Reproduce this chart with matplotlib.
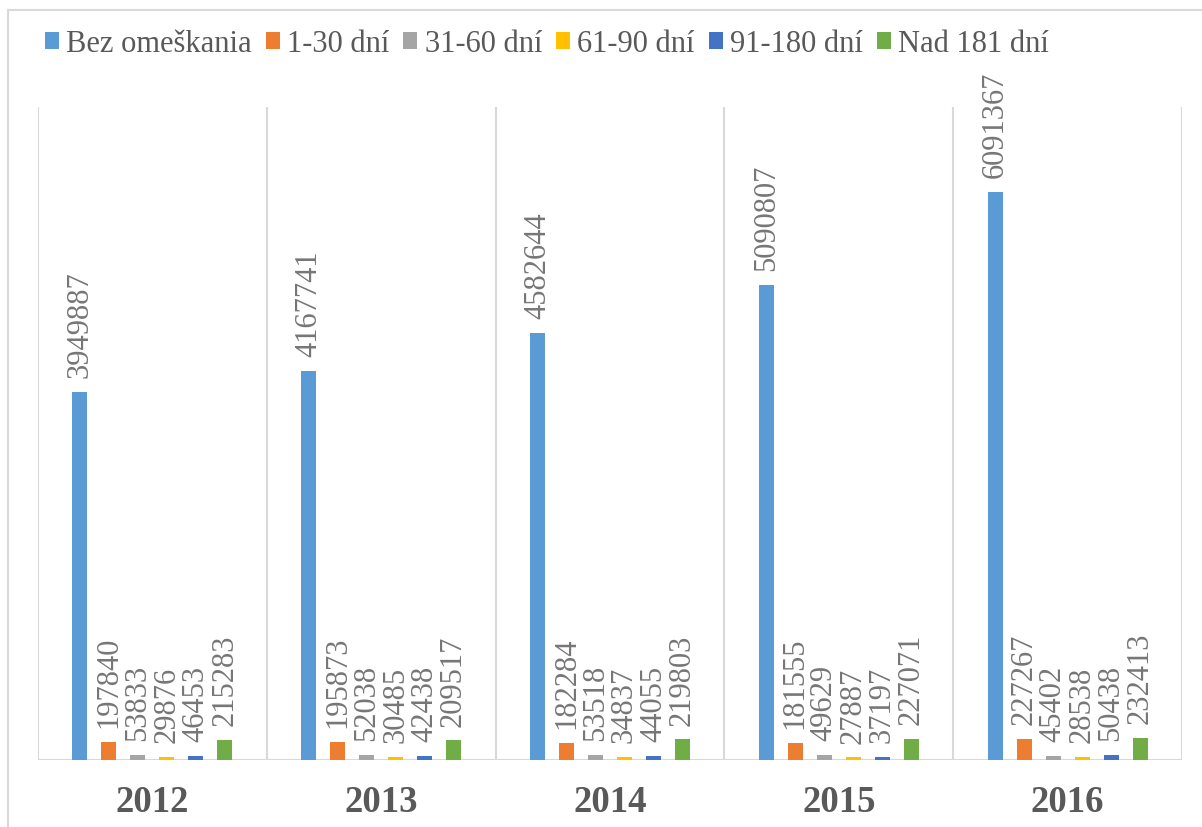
import numpy as np
import matplotlib
matplotlib.use('Agg')
import matplotlib.pyplot as plt
from matplotlib.lines import Line2D

plt.rcParams['font.family'] = ['Liberation Serif', 'DejaVu Serif']

years = ['2012', '2013', '2014', '2015', '2016']
series = ['Bez omeškania', '1-30 dní', '31-60 dní', '61-90 dní', '91-180 dní', 'Nad 181 dní']
bez_omeskania = [3949887, 4167741, 4582644, 5090807, 6091367]
d1_30 = [197840, 195873, 182284, 181555, 227267]
d31_60 = [53833, 52038, 53518, 49629, 45402]
d61_90 = [29876, 30485, 34837, 27887, 28538]
d91_180 = [46453, 42438, 44055, 37197, 50438]
nad_181 = [215283, 209517, 219803, 227071, 232413]
colors = ['#5B9BD5', '#ED7D31', '#A5A5A5', '#FFC000', '#4472C4', '#70AD47']

values = [bez_omeskania, d1_30, d31_60, d61_90, d91_180, nad_181]
text_col = '#595959'
label_col = '#767676'
grid_col = '#D9D9D9'

W, H = 1202, 827
fig = plt.figure(figsize=(W / 100, H / 100), dpi=100)

# outer chart frame (left and top edges visible)
fig.add_artist(Line2D([8 / W, 8 / W], [0, 1 - 10 / H], color=grid_col, lw=1.5))
fig.add_artist(Line2D([8 / W, 1], [1 - 10 / H, 1 - 10 / H], color=grid_col, lw=1.5))

ax = fig.add_axes([38 / W, 1 - 760 / H, (1182 - 38) / W, (760 - 107) / H])

x = np.arange(len(years))
step = 0.1266
width = 0.0655
for i, (vals, c) in enumerate(zip(values, colors)):
    pos = x + (i - 2.5) * step
    bars = ax.bar(pos, vals, width=width, color=c, label=series[i], zorder=3)
    ax.bar_label(bars, labels=[str(v) for v in vals], rotation=90, padding=10,
                 fontsize=22, color=label_col)

ax.set_xlim(-0.5, len(years) - 0.5)
ax.set_ylim(0, 7000000)
for b in np.arange(-0.5, len(years), 1):
    ax.axvline(b, color=grid_col, lw=1.5, zorder=1)
ax.axhline(0, color=grid_col, lw=1.5, zorder=2)

for s in ax.spines.values():
    s.set_visible(False)
ax.set_yticks([])
ax.set_xticks(x)
ax.set_xticklabels(years, fontsize=26.5, fontweight='bold', color=text_col)
ax.tick_params(axis='x', length=0, pad=18)

ax.legend(loc='center left', bbox_to_anchor=(45 / W, 1 - 44 / H),
          bbox_transform=fig.transFigure, ncol=6, frameon=False,
          fontsize=22, labelcolor=text_col, handlelength=0.46, handleheight=0.46,
          handletextpad=0.24, columnspacing=0.45, borderpad=0, borderaxespad=0)

plt.savefig('out.png', dpi=100)
